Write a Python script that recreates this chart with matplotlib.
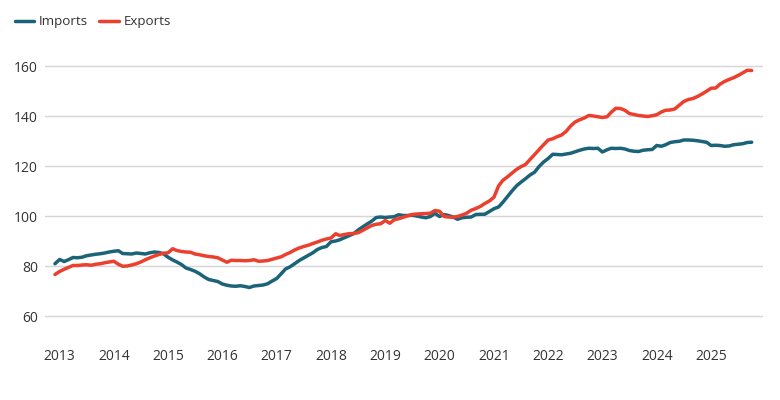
import matplotlib
matplotlib.use("Agg")
import matplotlib.pyplot as plt
import matplotlib.dates as mdates
import pandas as pd

# monthly index values, Dec 2012 .. Oct 2025
months = pd.date_range("2012-12-01", periods=155, freq="MS")

imports = [
    80.9, 82.6, 81.8, 82.5, 83.4, 83.3, 83.5, 84.1, 84.4, 84.7, 84.9, 85.2,
    85.6, 85.9, 86.1, 85.0, 84.9, 84.8, 85.2, 85.0, 84.8, 85.3, 85.6, 85.4,
    84.9, 83.5, 82.4, 81.6, 80.6, 79.2, 78.6, 77.9, 76.9, 75.6, 74.6, 74.2,
    73.8, 72.8, 72.3, 72.0, 71.9, 72.1, 71.8, 71.4, 72.0, 72.2, 72.4, 72.9,
    74.0, 75.0, 77.0, 78.8, 79.7, 80.9, 82.2, 83.2, 84.2, 85.3, 86.6, 87.4,
    87.8, 89.7, 90.0, 90.5, 91.3, 92.1, 92.9, 94.3, 95.6, 96.8, 97.9, 99.4,
    99.6, 99.4, 99.6, 99.7, 100.5, 100.2, 100.2, 100.3, 100.0, 99.6, 99.3, 99.8,
    101.1, 99.8, 100.6, 100.2, 99.6, 98.7, 99.3, 99.5, 99.6, 100.6, 100.7, 100.7,
    101.8, 102.9, 103.6, 105.4, 107.7, 109.9, 112.0, 113.5, 114.9, 116.4, 117.5, 119.8,
    121.6, 123.0, 124.7, 124.6, 124.5, 124.8, 125.1, 125.7, 126.3, 126.8, 127.1, 127.0,
    127.1, 125.6, 126.5, 127.1, 127.0, 127.1, 126.8, 126.2, 125.9, 125.8, 126.3, 126.5,
    126.6, 128.2, 127.9, 128.5, 129.4, 129.7, 129.9, 130.4, 130.4, 130.3, 130.1, 129.8,
    129.5, 128.2, 128.3, 128.2, 127.9, 128.0, 128.5, 128.7, 128.9, 129.4, 129.5,
]

exports = [
    76.6, 77.8, 78.7, 79.4, 80.2, 80.2, 80.4, 80.5, 80.3, 80.7, 80.9, 81.3,
    81.6, 81.9, 80.7, 79.9, 80.0, 80.4, 80.9, 81.6, 82.5, 83.3, 84.0, 84.6,
    85.1, 85.3, 86.9, 86.2, 85.8, 85.6, 85.5, 84.8, 84.5, 84.1, 83.8, 83.6,
    83.3, 82.4, 81.5, 82.3, 82.2, 82.2, 82.1, 82.2, 82.5, 81.9, 82.0, 82.2,
    82.7, 83.2, 83.7, 84.6, 85.4, 86.4, 87.2, 87.8, 88.3, 89.0, 89.6, 90.3,
    90.8, 91.2, 92.9, 92.2, 92.6, 92.9, 93.0, 93.3, 94.2, 95.2, 96.2, 96.7,
    96.9, 98.2, 97.1, 98.5, 98.9, 99.5, 100.1, 100.6, 100.8, 100.9, 101.0, 101.1,
    102.2, 101.9, 99.8, 99.6, 99.5, 99.8, 100.4, 101.1, 102.3, 103.0, 103.8, 105.0,
    106.0, 107.5, 112.0, 114.2, 115.6, 117.1, 118.6, 119.7, 120.6, 122.6, 124.5, 126.5,
    128.5, 130.4, 130.9, 131.7, 132.4, 133.8, 136.0, 137.6, 138.5, 139.2, 140.2, 140.0,
    139.7, 139.4, 139.7, 141.5, 143.1, 143.0, 142.3, 141.0, 140.6, 140.2, 140.0, 139.8,
    140.1, 140.5, 141.6, 142.3, 142.4, 142.8, 144.3, 145.8, 146.6, 147.0, 147.8, 148.8,
    149.9, 151.1, 151.2, 152.7, 153.8, 154.6, 155.3, 156.2, 157.2, 158.3, 158.2,
]

y_ticks = [60, 80, 100, 120, 140, 160]

TEAL = "#1b6378"
RED = "#ec3f2d"
TEXT = "#333333"

plt.rcParams["font.family"] = ["Open Sans", "DejaVu Sans"]

fig = plt.figure(figsize=(7.8, 4.0), dpi=100)
ax = fig.add_axes([0.0577, 0.1475, 0.9203, 0.75])

ax.plot(months, imports, color=TEAL, linewidth=2.5, label="Imports", solid_capstyle="round")
ax.plot(months, exports, color=RED, linewidth=2.5, label="Exports", solid_capstyle="round")

ax.set_ylim(50, 170)
ax.set_yticks(y_ticks)
ax.set_xlim(pd.Timestamp("2012-09-25"), pd.Timestamp("2025-12-15"))
ax.xaxis.set_major_locator(mdates.YearLocator())
ax.xaxis.set_major_formatter(mdates.DateFormatter("%Y"))

ax.grid(True, axis="y", color="#d6d6d6", linewidth=1.0)
ax.set_axisbelow(True)
for s in ax.spines.values():
    s.set_visible(False)
ax.tick_params(axis="both", length=0, labelsize=10, labelcolor=TEXT)
ax.tick_params(axis="x", pad=6)
ax.tick_params(axis="y", pad=5)

leg = fig.legend(loc="upper left", bbox_to_anchor=(0.007, 0.985), ncol=2, frameon=False,
                 fontsize=9.6, handlelength=1.45, handletextpad=0.35, columnspacing=0.85,
                 borderaxespad=0.3)
for t in leg.get_texts():
    t.set_color(TEXT)

fig.savefig("out.png", dpi=100, facecolor="white")
